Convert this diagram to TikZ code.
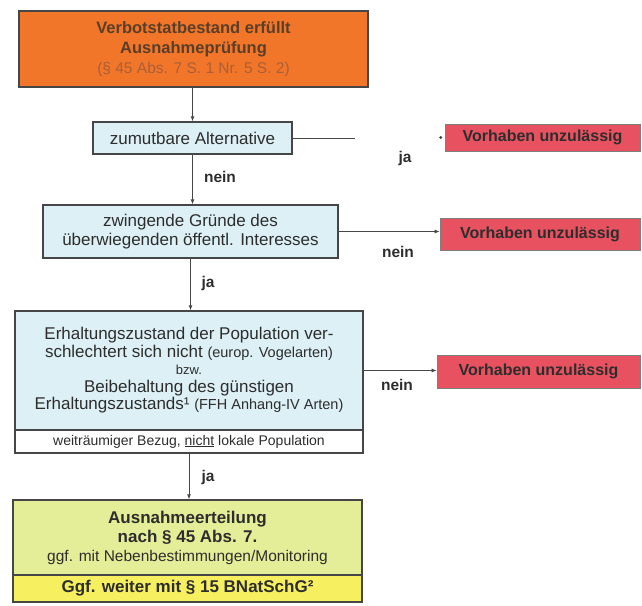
\documentclass[tikz,border=0pt]{standalone}
\usepackage{fontspec}
\setmainfont{Liberation Sans}
\usetikzlibrary{arrows.meta}
\definecolor{orangeF}{RGB}{242,118,42}
\definecolor{redF}{RGB}{232,82,96}
\definecolor{blueF}{RGB}{220,240,246}
\definecolor{greenF}{RGB}{228,238,152}
\definecolor{yellowF}{RGB}{246,240,96}
\definecolor{txt}{RGB}{45,45,45}
\definecolor{edge}{RGB}{70,70,70}
\definecolor{otxt}{RGB}{90,62,40}
\definecolor{otxtl}{RGB}{170,95,55}
\begin{document}
\begin{tikzpicture}[x=1pt,y=-1pt,
  box/.style={draw=edge, line width=1.3pt, inner sep=0pt, align=center, text=txt, font=\fontsize{17}{19}\selectfont},
  redbox/.style={draw=edge!70, line width=0.6pt, fill=redF, inner sep=0pt, text=txt, font=\bfseries\fontsize{16}{18}\selectfont},
  lbl/.style={text=txt, font=\bfseries\fontsize{15.5}{18}\selectfont, inner sep=0pt},
  conn/.style={draw=edge, line width=0.9pt},
  arr/.style={conn, -{Latex[length=5pt,width=4pt]}}]
\useasboundingbox (0,0) rectangle (642,605);
% boxes
\node[box, fill=orangeF, minimum width=349, minimum height=76, text=otxt, font=\bfseries\fontsize{16.5}{20}\selectfont] (o) at (193.5,49)
  {Verbotstatbestand erfüllt\\Ausnahmeprüfung\\{\color{otxtl}\mdseries\fontsize{15.5}{20}\selectfont(§ 45 Abs. 7 S. 1 Nr. 5 S. 2)}};
\node[box, fill=blueF, minimum width=199, minimum height=32] (z) at (192.5,138) {zumutbare Alternative};
\node[redbox, minimum width=195, minimum height=27] (r1) at (542.5,137.5) {Vorhaben unzulässig};
\node[box, fill=blueF, minimum width=295, minimum height=53] (b2) at (190.5,231.5)
  {zwingende Gründe des\\überwiegenden öffentl. Interesses};
\node[redbox, minimum width=200, minimum height=32] (r2) at (540,234) {Vorhaben unzulässig};
\node[box, fill=blueF, minimum width=348, minimum height=119, font=\fontsize{17}{17.5}\selectfont] (b3) at (189,370.5)
  {Erhaltungszustand der Population ver-\\schlechtert sich nicht {\fontsize{14.5}{17.5}\selectfont(europ. Vogelarten)}\\{\fontsize{13}{17.5}\selectfont bzw.}\\Beibehaltung des günstigen\\Erhaltungszustands¹ {\fontsize{14.5}{17.5}\selectfont(FFH Anhang-IV Arten)}};
\node[box, fill=white, minimum width=348, minimum height=23, font=\fontsize{14}{15}\selectfont] (b3b) at (189,441.5)
  {weiträumiger Bezug, \underline{nicht} lokale Population};
\node[redbox, minimum width=203, minimum height=33] (r3) at (538.5,371.5) {Vorhaben unzulässig};
\node[box, fill=greenF, minimum width=349, minimum height=75, font=\bfseries\fontsize{17}{19}\selectfont] (b4) at (187.5,537.5)
  {Ausnahmeerteilung\\nach § 45 Abs. 7.\\{\mdseries\fontsize{15.5}{19}\selectfont ggf. mit Nebenbestimmungen/Monitoring}};
\node[box, fill=yellowF, minimum width=349, minimum height=27, font=\bfseries\fontsize{17}{18}\selectfont] (b4b) at (187.5,588.5)
  {Ggf. weiter mit § 15 BNatSchG²};
% connectors
\draw[arr] (o.south -| z.north) -- (z.north);
\draw[arr] (z.south) -- (b2.north -| z.south);
\draw[arr] (b2.south) -- (b3.north -| b2.south);
\draw[arr] (b3b.south) -- (b4.north -| b3b.south);
\coordinate (jaend) at (355,138);
\draw[conn] (z.east) -- (jaend);
\fill[edge] (r1.west) ++(-4,0) circle (1.6pt);
\draw[arr] (b2.east) -- (b2.east -| r2.west);
\draw[arr] (b3.east) -- (b3.east -| r3.west);
% labels
\node[lbl] (l1) at (405,158) {ja};
\node[lbl] (l2) at (220,177) {nein};
\node[lbl] (l3) at (398,252) {nein};
\node[lbl] (l4) at (208,283) {ja};
\node[lbl] (l5) at (397,385) {nein};
\node[lbl] (l6) at (208,477) {ja};
\end{tikzpicture}
\end{document}
